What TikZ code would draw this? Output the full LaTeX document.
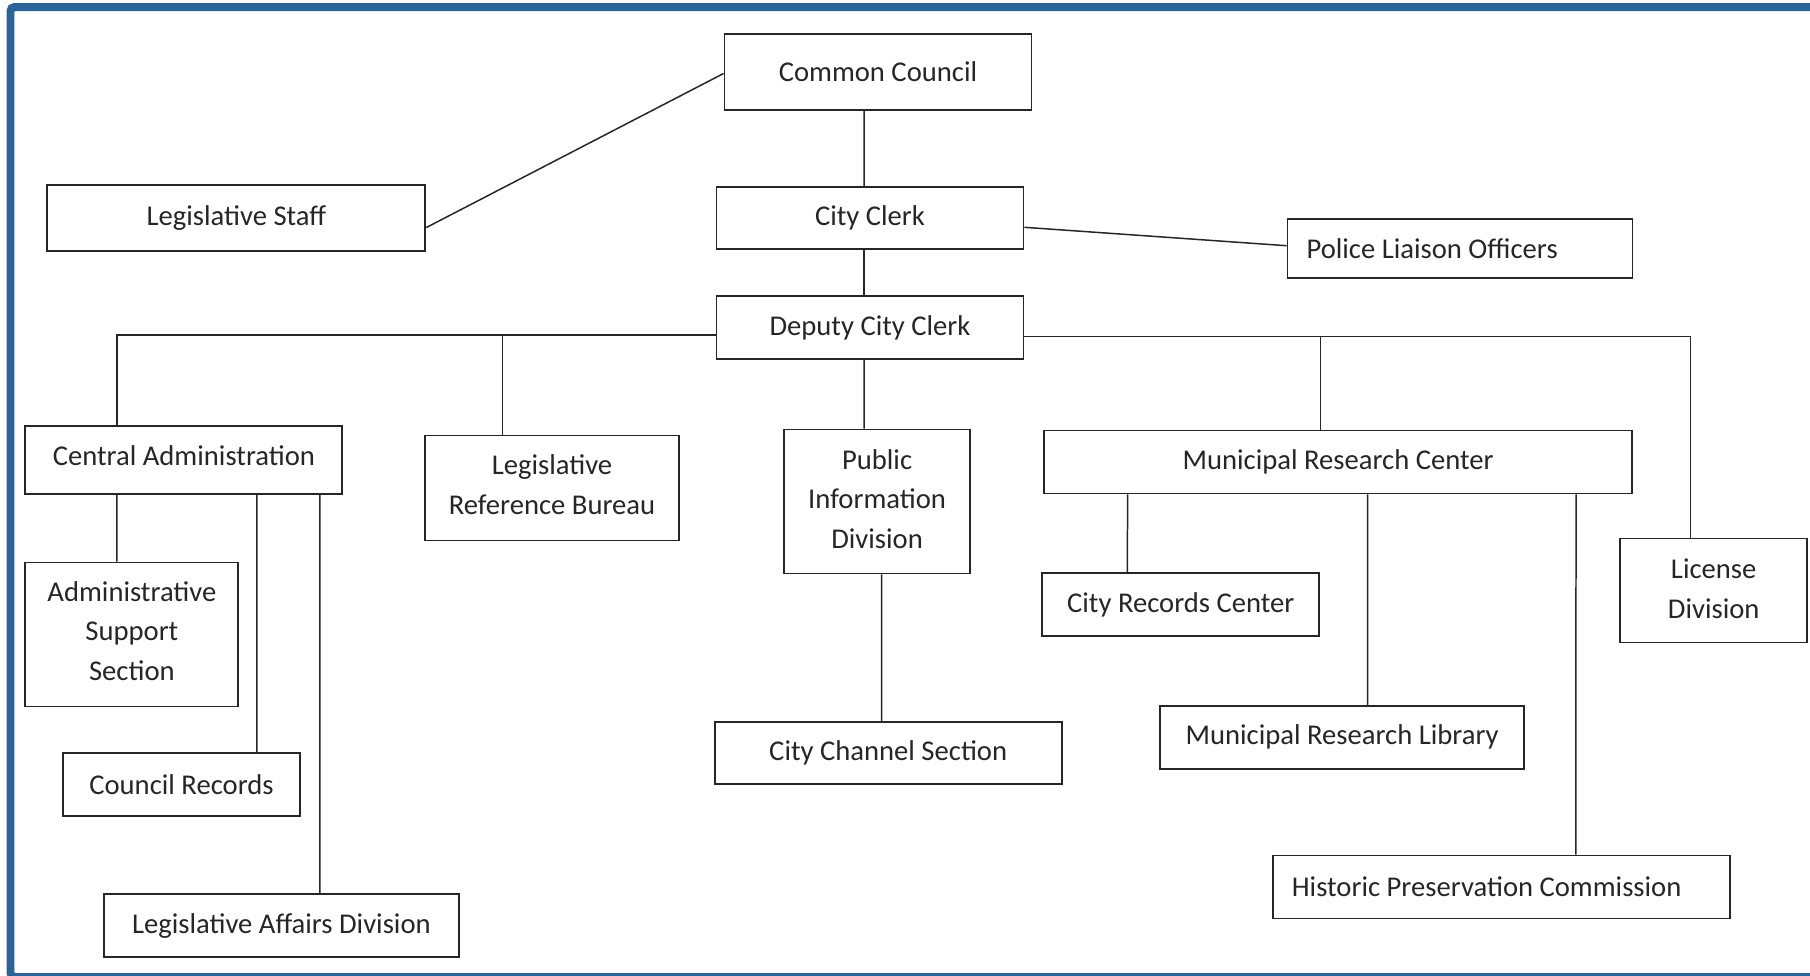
\documentclass[tikz,border=0pt]{standalone}
\usepackage{fontspec}
\setmainfont{Carlito}
\usepackage{tikz}
\definecolor{framebl}{RGB}{42,100,152}
\definecolor{inkgray}{RGB}{38,38,38}

\begin{document}
\begin{tikzpicture}[
            x=0.02cm, y=-0.02cm,
            unit/.style={draw=inkgray, line width=1.1pt, text=inkgray, inner sep=0pt, align=center, font=\fontsize{16.3}{22.7}\selectfont},
            dims/.style 2 args={minimum width=#1*0.02cm, minimum height=#2*0.02cm},
            link/.style={draw=inkgray, line width=0.85pt},
            frameline/.style={draw=framebl, line width=0.16cm, rounded corners=0.08cm}
        ]
            \useasboundingbox (0,0) rectangle (1810,975);

            % Blue frame, cut off on the right
            \draw[frameline] (1810,7) -- (10.5,7) -- (10.5,977) -- (1810,977);

            % Top of the chart
            \node[unit, dims={307}{76}] (council) at (878,72) {Common Council};
            \node[unit, dims={378}{66}] (legstaff) at (236.4,218) {Legislative Staff};
            \node[unit, dims={307}{62}] (clerk) at (870,218.3) {City Clerk};
            \node[unit, dims={345}{59}, align=flush left, text width=6.14cm, inner xsep=0.38cm] (police) at (1460,248.7) {Police Liaison Officers};
            \node[unit, dims={307}{63}] (deputy) at (870,327.7) {Deputy City Clerk};

            % Divisions under the deputy
            \node[unit, dims={317}{68}, text depth=0.2cm] (centraladm) at (183.9,460.2) {Central Administration};
            \node[unit, dims={254}{105}, text depth=0.14cm] (legref) at (552,488) {Legislative\\Reference Bureau};
            \node[unit, dims={186}{144}, text depth=0.1cm] (pubinfo) at (877.1,501.5) {Public\\Information\\Division};
            \node[unit, dims={588}{63}] (research) at (1338.1,462) {Municipal Research Center};
            \node[unit, dims={187}{104}, text depth=0.07cm] (license) at (1713.7,590.5) {License\\Division};

            % Sections
            \node[unit, dims={213}{144}, text depth=0.14cm] (admsupport) at (131.9,634.5) {Administrative\\Support\\Section};
            \node[unit, dims={237}{63}] (councilrec) at (181.5,784.5) {Council Records};
            \node[unit, dims={355}{63}] (legaffairs) at (281.4,925.6) {Legislative Affairs Division};
            \node[unit, dims={347}{62}] (channel) at (888.2,752.9) {City Channel Section};
            \node[unit, dims={277}{63}] (records) at (1180.8,604.7) {City Records Center};
            \node[unit, dims={364}{63}] (library) at (1342.1,737.3) {Municipal Research Library};
            \node[unit, dims={457}{63}, align=flush left, text width=8.4cm, inner xsep=0.37cm] (preservation) at (1501.8,887) {Historic Preservation Commission};

            % Links at the top
            \draw[link] ([yshift=-0.19cm]legstaff.east) -- ([yshift=-0.03cm]council.west);
            \draw[link] ([xshift=-0.28cm]council.south) -- ([xshift=-0.12cm]clerk.north);
            \draw[link] ([yshift=-0.18cm]clerk.east) -- ([yshift=0.06cm]police.west);
            \draw[link] ([xshift=-0.12cm]clerk.south) -- ([xshift=-0.12cm]deputy.north);

            % Links from the deputy
            \draw[link] ([yshift=-0.15cm]deputy.west) -| ([xshift=-1.34cm]centraladm.north);
            \draw[link] ([xshift=-0.99cm]legref.north) |- ([yshift=-0.15cm]deputy.west);
            \draw[link] ([xshift=-0.12cm]deputy.south) -- ([xshift=-0.26cm]pubinfo.north);
            \draw[link] ([yshift=-0.18cm]deputy.east) -| ([xshift=-0.46cm]license.north);
            \draw[link] ([xshift=-0.35cm]research.north) |- ([yshift=-0.18cm]deputy.east);

            % Links to the sections
            \draw[link] ([xshift=-1.34cm]centraladm.south) -- ([xshift=-0.30cm]admsupport.north);
            \draw[link] ([xshift=1.46cm]centraladm.south) -- ([xshift=1.51cm]councilrec.north);
            \draw[link] ([xshift=2.72cm]centraladm.south) -- ([xshift=0.77cm]legaffairs.north);
            \draw[link] ([xshift=0.09cm]pubinfo.south) -- ([xshift=-0.13cm]channel.north);
            \draw[link] ([xshift=-4.21cm]research.south) -- ([xshift=-1.07cm]records.north);
            \draw[link] ([xshift=0.59cm]research.south) -- ([xshift=0.51cm]library.north);
            \draw[link] ([xshift=4.76cm]research.south) -- ([xshift=1.48cm]preservation.north);
        \end{tikzpicture}
\end{document}
